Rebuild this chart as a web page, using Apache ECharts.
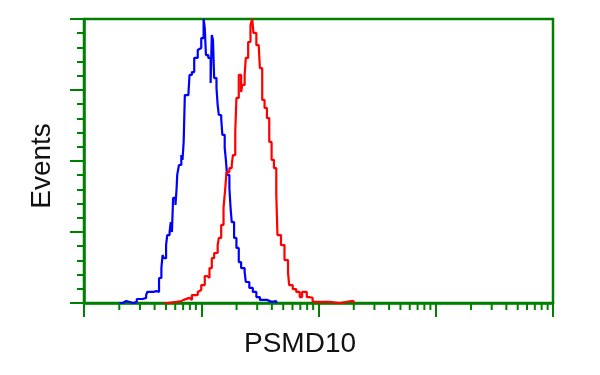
<!DOCTYPE html>
<html>
<head>
<meta charset="utf-8">
<script src="https://cdn.jsdelivr.net/npm/echarts@6/dist/echarts.min.js"></script>
<style>html,body{margin:0;padding:0;background:#fff}#c{width:600px;height:375px}</style>
</head>
<body>
<div id="c"></div>
<script>
// x values: log10 of fluorescence intensity (decades), y: % of max events
var blueX = [0.30,0.33,0.36,0.42,0.45,0.50,0.53,0.54,0.59,0.62,0.64,0.66,0.67,0.68,0.70,0.71,0.73,0.74,0.75,0.76,0.78,0.79,0.795,0.81,0.83,0.84,0.85,0.86,0.89,0.90,0.92,0.94,0.97,0.98,1.00,1.02,1.03,1.04,1.06,1.08,1.09,1.10,1.11,1.13,1.14,1.15,1.17,1.18,1.20,1.21,1.22,1.24,1.25,1.26,1.28,1.30,1.32,1.34,1.37,1.38,1.41,1.44,1.47,1.50,1.56,1.60,1.64];
var blueY = [0,0.7,0,0.4,1.4,1.8,2.8,3.9,4.2,3.9,8.8,12.3,16.9,15.8,20.4,23.9,25.0,28.5,25.0,37.0,34.5,40.5,45.1,48.6,52.1,50.4,56.7,73.2,73.9,80.3,81.3,86.3,89.1,89.8,93.3,100,96.8,87.3,86.3,77.5,94.4,92.6,79.2,75.7,69.7,66.2,65.1,59.2,54.6,50.4,45.1,40.5,33.5,28.5,22.9,19.4,14.4,12.3,10.9,7.4,5.3,3.9,2.1,1.1,0.4,0.7,0];
var redX = [0.68,0.71,0.79,0.83,0.85,0.90,0.91,0.92,0.97,0.98,1.00,1.03,1.05,1.07,1.09,1.11,1.14,1.15,1.17,1.19,1.205,1.215,1.24,1.26,1.27,1.29,1.30,1.32,1.34,1.35,1.37,1.38,1.40,1.42,1.435,1.445,1.47,1.49,1.50,1.52,1.54,1.56,1.58,1.60,1.62,1.64,1.65,1.68,1.71,1.74,1.75,1.78,1.81,1.84,1.86,1.90,1.92,1.95,1.99,2.05,2.09,2.18,2.28,2.30];
var redY = [0,0.4,0.7,1.1,1.8,2.1,1.1,2.8,3.9,4.6,6.3,9.5,8.8,12.3,15.8,17.6,20.4,22.9,27.5,33.5,40.5,46.1,47.5,48.6,52.1,60.2,72.2,80.3,74.3,76.8,80.3,86.3,91.9,97.9,100,95.1,90.8,90.1,82.7,71.5,68.7,65.1,56.7,50.4,47.5,38.0,23.9,20.4,15.1,10.6,6.3,4.9,3.9,2.1,3.9,2.1,1.8,0.4,0.4,0.4,0,0.7,0.7,0];
var decades = [0,1,2,3];
var minorMultipliers = [2,3,4,5,6,7,8,9];
var xTitle = 'PSMD10';
var yTitle = 'Events';

var GREEN = '#008000';
function pairs(xs, ys){ return xs.map(function(x,i){ return [x, ys[i]]; }); }
var minorTicks = [];
decades.forEach(function(d){ minorMultipliers.forEach(function(k){ minorTicks.push([d + Math.log10(k), 0]); }); });

var chart = echarts.init(document.getElementById('c'), null, {renderer:'canvas'});
chart.setOption({
  animation:false,
  backgroundColor:'#fff',
  grid:{left:84,right:47,top:19,bottom:72,show:true,borderColor:GREEN,borderWidth:2.5,backgroundColor:'transparent'},
  xAxis:{
    type:'value',min:0,max:4,interval:1,
    axisLine:{show:true,onZero:false,lineStyle:{color:GREEN,width:2.5}},
    axisTick:{show:true,length:14,lineStyle:{color:GREEN,width:2}},
    axisLabel:{show:false},splitLine:{show:false},
    name:xTitle,nameLocation:'middle',nameGap:27,
    nameTextStyle:{color:'#111',fontSize:28,fontFamily:'Liberation Sans, Arial, sans-serif',padding:[0,37,0,0]}
  },
  yAxis:{
    type:'value',min:0,max:100,interval:25,
    axisLine:{show:true,lineStyle:{color:GREEN,width:2.5}},
    axisTick:{show:true,length:14,lineStyle:{color:GREEN,width:2}},
    minorTick:{show:true,splitNumber:5,length:7,lineStyle:{color:GREEN,width:2}},
    axisLabel:{show:false},splitLine:{show:false},
    name:yTitle,nameLocation:'middle',nameGap:28,nameRotate:90,
    nameTextStyle:{color:'#111',fontSize:28,fontFamily:'Liberation Sans, Arial, sans-serif',padding:[0,10,0,0]}
  },
  series:[
    {type:'line',step:'end',data:pairs(blueX,blueY),showSymbol:false,lineStyle:{color:'#0000ff',width:2.2},z:3},
    {type:'line',step:'end',data:pairs(redX,redY),showSymbol:false,lineStyle:{color:'#ff0000',width:2.2},z:3},
    {type:'custom',data:minorTicks,clip:false,silent:true,z:4,
     renderItem:function(params, api){
       var p = api.coord([api.value(0), api.value(1)]);
       return {type:'line',shape:{x1:p[0],y1:p[1],x2:p[0],y2:p[1]+7},style:{stroke:GREEN,lineWidth:2}};
     }}
  ]
});
</script>
</body>
</html>
